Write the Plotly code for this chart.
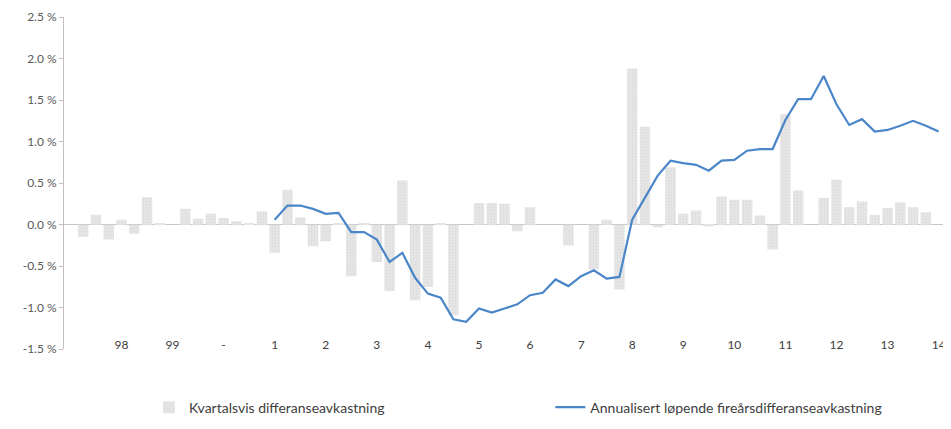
import plotly.graph_objects as go

# quarters 1997K4 .. 2014K4
quarters = ["1997K4"] + [f"{y}K{q}" for y in range(1998, 2015) for q in range(1, 5)]

# quarterly excess return, percent
kvartal = [
    None,
    -0.15, 0.12, -0.18, 0.06,      # 1998
    -0.11, 0.33, 0.01, 0.00,       # 1999
    0.19, 0.07, 0.13, 0.08,        # 2000
    0.04, 0.01, 0.16, -0.34,       # 2001
    0.42, 0.09, -0.26, -0.20,      # 2002
    0.02, -0.62, 0.02, -0.45,      # 2003
    -0.80, 0.53, -0.91, -0.75,     # 2004
    0.02, -1.09, 0.00, 0.26,       # 2005
    0.26, 0.25, -0.08, 0.21,       # 2006
    0.00, 0.00, -0.25, 0.00,       # 2007
    -0.54, 0.06, -0.78, 1.88,      # 2008
    1.18, -0.03, 0.69, 0.13,       # 2009
    0.17, -0.02, 0.34, 0.30,       # 2010
    0.30, 0.11, -0.30, 1.33,       # 2011
    0.41, 0.00, 0.32, 0.54,        # 2012
    0.21, 0.28, 0.12, 0.20,        # 2013
    0.27, 0.21, 0.15, None,        # 2014
]

# annualised rolling four-year excess return, percent (starts 2001K4)
firear = [None] * 16 + [
    0.06,
    0.23, 0.23, 0.19, 0.13,
    0.14, -0.09, -0.09, -0.18,
    -0.45, -0.34, -0.64, -0.83,
    -0.88, -1.14, -1.17, -1.01,
    -1.06, -1.01, -0.96, -0.85,
    -0.82, -0.66, -0.74, -0.62,
    -0.55, -0.65, -0.63, 0.06,
    0.32, 0.59, 0.77, 0.74,
    0.72, 0.65, 0.77, 0.78,
    0.89, 0.91, 0.91, 1.26,
    1.51, 1.51, 1.79, 1.45,
    1.20, 1.27, 1.12, 1.14,
    1.19, 1.25, 1.19, 1.12,
]

tick_quarters = [f"{y}K4" for y in range(1998, 2015)]
tick_labels = ["98", "99", "-"] + [str(y) for y in range(1, 15)]

y_ticks = [-1.5, -1.0, -0.5, 0.0, 0.5, 1.0, 1.5, 2.0, 2.5]
y_labels = [f"{v:.1f} %" for v in y_ticks]

font = "Lato, 'Open Sans', sans-serif"

fig = go.Figure()
fig.add_trace(go.Bar(
    x=quarters, y=kvartal,
    name="Kvartalsvis differanseavkastning",
    marker=dict(color="#e6e6e6", line=dict(width=0),
                pattern=dict(shape=".", fgcolor="#d2d2d2", size=3, solidity=0.3)),
    showlegend=True, legend="legend",
))
fig.add_trace(go.Scatter(
    x=quarters, y=firear, mode="lines",
    name="Annualisert løpende fireårsdifferanseavkastning",
    line=dict(color="#4a86c8", width=2.2),
    showlegend=True, legend="legend2",
))

leg = dict(orientation="h", xanchor="left", y=-0.1255, yanchor="middle",
           font=dict(size=14, color="#404040"), bgcolor="rgba(0,0,0,0)",
           visible=True)

# the page body adds an 8px margin, so the figure is 8px smaller than the window
fig.update_layout(
    width=943, height=421,
    margin=dict(l=56, r=6, t=9, b=60),
    paper_bgcolor="white", plot_bgcolor="white",
    font=dict(family=font, size=12, color="#595959"),
    bargap=0.18,
    showlegend=True,
    legend=dict(leg, x=0.0965),
    legend2=dict(leg, x=0.552),
    xaxis=dict(
        type="category", range=[-0.5, len(quarters) - 0.5],
        tickvals=tick_quarters, ticktext=tick_labels,
        anchor="free", position=0.080, automargin=False,
        ticks="", showline=False,
        showgrid=False, zeroline=False,
        tickfont=dict(size=12, color="#404040"),
    ),
    yaxis=dict(
        range=[-1.5, 2.5], tickvals=y_ticks, ticktext=y_labels,
        domain=[0.0426, 1], automargin=False,
        showline=True, linecolor="#c0c0c0", linewidth=1,
        ticks="outside", ticklen=4, tickcolor="#c0c0c0",
        showgrid=False, zeroline=True, zerolinecolor="#c8c8c8", zerolinewidth=1,
        tickfont=dict(size=12, color="#595959"),
    ),
)

fig.write_html("out.html")
